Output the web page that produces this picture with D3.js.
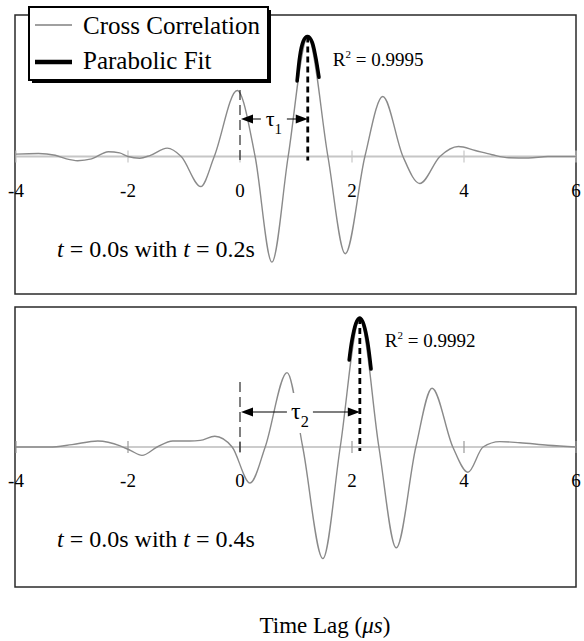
<!DOCTYPE html>
<html>
<head>
<meta charset="utf-8">
<script src="https://cdn.jsdelivr.net/npm/d3@7"></script>
<style>
  body { margin: 0; background: #fff; }
  svg { display: block; }
  text { font-family: "Liberation Serif", "Times New Roman", serif; fill: #000; }
</style>
</head>
<body>
<svg id="chart" width="584" height="641" font-family="Liberation Serif, serif"></svg>
<script>
// ---- data -------------------------------------------------------------
const xTicks = [-4, -2, 0, 2, 4, 6];

// cross correlation, t = 0.0 s with t = 0.2 s (lag in µs, normalised value)
const lagA  = [-4.0, -3.6, -3.3, -3.1, -2.9, -2.65, -2.35, -2.15, -2.0, -1.79, -1.6, -1.3, -1.05, -0.7, -0.46, -0.05, 0.27, 0.57, 0.86, 1.21, 1.57, 1.88, 2.23, 2.55, 2.91, 3.21, 3.57, 3.9, 4.2, 4.5, 4.8, 5.15, 5.5, 6.0];
const corrA = [0.02, 0.025, 0.01, -0.02, -0.035, -0.02, 0.04, 0.03, 0.0, -0.015, 0.01, 0.07, 0.0, -0.25, 0.0, 0.55, 0.0, -0.88, 0.0, 1.0, 0.0, -0.81, 0.0, 0.50, 0.0, -0.225, 0.0, 0.083, 0.05, 0.015, -0.01, -0.012, 0.0, 0.0];
// parabolic fit around the main peak
const fitLagA = [1.02, 1.07, 1.13, 1.21, 1.29, 1.35, 1.41];
const fitA    = [0.63, 0.84, 0.96, 1.0, 0.95, 0.83, 0.66];

// cross correlation, t = 0.0 s with t = 0.4 s
const lagB  = [-4.0, -3.4, -3.0, -2.54, -2.14, -1.95, -1.75, -1.48, -1.2, -0.9, -0.71, -0.45, -0.14, 0.18, 0.45, 0.84, 1.12, 1.48, 1.79, 2.14, 2.48, 2.79, 3.14, 3.43, 3.8, 4.07, 4.34, 4.64, 5.0, 5.5, 6.0];
const corrB = [0.0, 0.0, 0.02, 0.05, 0.01, -0.03, -0.07, 0.0, 0.05, 0.05, 0.055, 0.09, 0.0, -0.30, 0.0, 0.62, 0.0, -0.93, 0.0, 1.075, 0.0, -0.84, 0.0, 0.49, 0.0, -0.21, 0.0, 0.045, 0.035, 0.015, 0.0];
const fitLagB = [1.95, 2.0, 2.07, 2.14, 2.21, 2.28, 2.34];
const fitB    = [0.725, 0.89, 1.03, 1.075, 1.02, 0.87, 0.65];

const r2Labels = ["0.9995", "0.9992"];
const tauSubs  = ["1", "2"];
const laterTimes = ["0.2s", "0.4s"];
const legendLabels = ["Cross Correlation", "Parabolic Fit"];
const axisTitle = "Time Lag (";

// ---- layout -----------------------------------------------------------
const FONT = "'Liberation Serif', 'Times New Roman', serif";
const svg = d3.select("#chart");
const x = d3.scaleLinear().domain([-4, 6]).range([16, 576]);

const panels = [
  { top: 15,  bottom: 294, zero: 156.5, lag: lagA, corr: corrA, fitLag: fitLagA, fit: fitA,
    zeroColor: "#c6c6c6", zeroWidth: 2, dashTop: 90, dashBottom: 163, arrowY: 119, tauSize: 22 },
  { top: 307, bottom: 587, zero: 447, lag: lagB, corr: corrB, fitLag: fitLagB, fit: fitB,
    zeroColor: "#9a9a9a", zeroWidth: 1.2, dashTop: 382, dashBottom: 453, arrowY: 412, tauSize: 24 }
];

function arrowHead(g, tipX, y, dir) {
  const len = 12, half = 4.5;
  g.append("path")
    .attr("d", `M${tipX},${y}L${tipX + dir * len},${y - half}L${tipX + dir * len},${y + half}Z`)
    .attr("fill", "#000");
}

panels.forEach((p, i) => {
  const g = svg.append("g").attr("font-family", FONT);
  const y = d3.scaleLinear().domain([-1, 1]).range([p.zero + 120, p.zero - 120]);

  // frame
  g.append("rect")
    .attr("x", x(-4) - 1).attr("y", p.top)
    .attr("width", x(6) - x(-4) + 1).attr("height", p.bottom - p.top)
    .attr("fill", "none").attr("stroke", "#2a2a2a").attr("stroke-width", 1.5);

  // zero line + ticks
  g.append("line")
    .attr("x1", x(-4)).attr("x2", x(6)).attr("y1", y(0)).attr("y2", y(0))
    .attr("stroke", p.zeroColor).attr("stroke-width", p.zeroWidth);
  g.selectAll(".tick").data(xTicks).join("line")
    .attr("x1", d => x(d)).attr("x2", d => x(d))
    .attr("y1", y(0) - 6).attr("y2", y(0) + 6)
    .attr("stroke", p.zeroColor).attr("stroke-width", 1.2);
  g.selectAll(".tl").data(xTicks).join("text")
    .attr("x", d => x(d)).attr("y", y(0) + 40)
    .attr("text-anchor", "middle").attr("font-size", 19)
    .text(d => String(d));

  // cross correlation curve
  const pts = p.lag.map((l, k) => [l, p.corr[k]]);
  g.append("path")
    .attr("d", d3.line().x(d => x(d[0])).y(d => y(d[1])).curve(d3.curveMonotoneX)(pts))
    .attr("fill", "none").attr("stroke", "#8a8a8a").attr("stroke-width", 1.4);

  // peak from the fit
  const pk = d3.maxIndex(p.fit);
  const peakLag = p.fitLag[pk], peakVal = p.fit[pk];

  // thin dashed marker at zero lag
  g.append("line")
    .attr("x1", x(0)).attr("x2", x(0)).attr("y1", p.dashTop).attr("y2", p.dashBottom)
    .attr("stroke", "#000").attr("stroke-width", 1).attr("stroke-dasharray", "10,5");

  // thick dashed marker at fitted peak
  g.append("line")
    .attr("x1", x(peakLag)).attr("x2", x(peakLag)).attr("y1", y(peakVal)).attr("y2", y(0) + 4)
    .attr("stroke", "#000").attr("stroke-width", 2.8).attr("stroke-dasharray", "6,4");

  // delay arrow
  g.append("line")
    .attr("x1", x(0) + 4).attr("x2", x(peakLag) - 4).attr("y1", p.arrowY).attr("y2", p.arrowY)
    .attr("stroke", "#000").attr("stroke-width", 1.1);
  arrowHead(g, x(0) + 1, p.arrowY, 1);
  arrowHead(g, x(peakLag), p.arrowY, -1);

  const cx = (x(0) + x(peakLag)) / 2;
  g.append("rect")
    .attr("x", cx - 13).attr("y", p.arrowY - 19)
    .attr("width", 26).attr("height", 40).attr("fill", "#fff");
  const tau = g.append("text")
    .attr("x", cx).attr("y", p.arrowY + 7)
    .attr("text-anchor", "middle").attr("font-size", p.tauSize);
  tau.append("tspan").text("τ");
  tau.append("tspan").attr("dy", 8).attr("font-size", p.tauSize * 0.68).text(tauSubs[i]);

  // parabolic fit
  const fpts = p.fitLag.map((l, k) => [l, p.fit[k]]);
  g.append("path")
    .attr("d", d3.line().x(d => x(d[0])).y(d => y(d[1])).curve(d3.curveCardinal)(fpts))
    .attr("fill", "none").attr("stroke", "#000").attr("stroke-width", 3.6)
    .attr("stroke-linecap", "round");

  // R^2 label
  const r2 = g.append("text")
    .attr("x", x(peakLag) + 25).attr("y", y(peakVal) + 29).attr("font-size", 19);
  r2.append("tspan").text("R");
  r2.append("tspan").attr("dy", -8).attr("font-size", 11).text("2");
  r2.append("tspan").attr("dy", 8).text(" = " + r2Labels[i]);

  // caption
  const cap = g.append("text")
    .attr("x", 57).attr("y", y(0) + 100).attr("font-size", 24);
  cap.append("tspan").attr("font-style", "italic").text("t");
  cap.append("tspan").text(" = 0.0s with ");
  cap.append("tspan").attr("font-style", "italic").text("t");
  cap.append("tspan").text(" = " + laterTimes[i]);
});

// legend
const lg = svg.append("g").attr("font-family", FONT);
lg.append("rect").attr("x", 32).attr("y", 10).attr("width", 239).attr("height", 73).attr("fill", "#000");
lg.append("rect").attr("x", 29).attr("y", 7).attr("width", 239).attr("height", 73)
  .attr("fill", "#fff").attr("stroke", "#000").attr("stroke-width", 2);
lg.append("line").attr("x1", 35).attr("x2", 72).attr("y1", 25).attr("y2", 25)
  .attr("stroke", "#a0a0a0").attr("stroke-width", 2);
lg.append("line").attr("x1", 35).attr("x2", 72).attr("y1", 62).attr("y2", 62)
  .attr("stroke", "#000").attr("stroke-width", 4.5);
lg.append("text").attr("x", 83).attr("y", 34).attr("font-size", 25).text(legendLabels[0]);
lg.append("text").attr("x", 83).attr("y", 69).attr("font-size", 25).text(legendLabels[1]);

// shared axis title
const at = svg.append("text").attr("font-family", FONT).attr("x", 325).attr("y", 633)
  .attr("text-anchor", "middle").attr("font-size", 23);
at.append("tspan").text(axisTitle);
at.append("tspan").attr("font-style", "italic").text("μs");
at.append("tspan").text(")");
</script>
</body>
</html>
